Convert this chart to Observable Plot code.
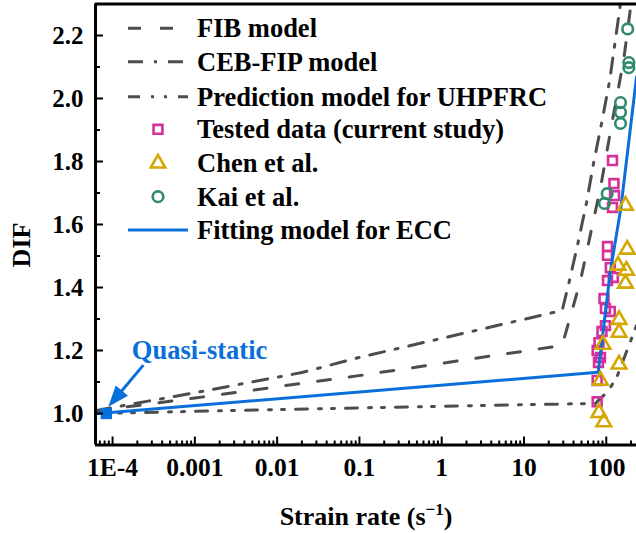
<!DOCTYPE html>
<html><head><meta charset="utf-8">
<script src="https://cdn.jsdelivr.net/npm/d3@7"></script>
<script src="https://cdn.jsdelivr.net/npm/@observablehq/plot@0.6"></script>
<style>
html,body{margin:0;padding:0;background:#fff;}
#chart{width:636px;height:533px;}
</style></head><body><div id="chart"></div>
<script>
// ---- data ----
const fibX = [6.2e-5, 0.001, 0.103, 29.1, 48.6, 85.1, 117, 163, 200];
const fibY = [1.008, 1.049, 1.121, 1.216, 1.422, 1.717, 1.921, 2.124, 2.30];

const cebX = [6.2e-5, 0.001, 0.02, 0.103, 29.1, 35.0, 45.1, 57.5, 70.5, 89.1, 110, 129, 149];
const cebY = [1.009, 1.066, 1.13, 1.179, 1.327, 1.412, 1.539, 1.669, 1.798, 1.930, 2.057, 2.186, 2.302];

const predX = [6.2e-5, 0.103, 74, 107, 137, 168, 226, 233];
const predY = [1.0, 1.018, 1.032, 1.073, 1.121, 1.182, 1.27, 1.28];

const fitX = [6.2e-5, 79.7, 112, 150, 233];
const fitY = [0.999, 1.131, 1.45, 1.65, 2.068];

const testX = [119,124,126,119,103.5,103.5,112,122,103.5,93.8,97.7,112,97.7,88.7,81.5,77.5,85,80.4,77.5,77.5];
const testY = [1.803,1.730,1.692,1.654,1.530,1.502,1.463,1.432,1.422,1.365,1.333,1.324,1.279,1.260,1.225,1.200,1.178,1.162,1.105,1.037];

const chenX = [171,179.5,139,176,171,143,143,91.2,143,85,81.5,93.3];
const chenY = [1.660,1.521,1.470,1.454,1.413,1.298,1.257,1.219,1.156,1.105,1.002,0.973];

const kaiX = [182,188,188,149,149,149,102.6,95];
const kaiY = [2.221,2.114,2.098,1.987,1.956,1.921,1.698,1.667];

const quasiX = [8.4e-5];
const quasiY = [1.0];

const annoLabel = ["Quasi-static"];
const annoLabelX = [1.14e-3];
const annoLabelY = [1.2];
const arrowFrom = [2.4e-4, 1.152];
const arrowTo = [9.0e-5, 1.020];

const xMajor = [1e-4, 1e-3, 1e-2, 0.1, 1, 10, 100];
const xLabels = ["1E-4", "0.001", "0.01", "0.1", "1", "10", "100"];
const yMajor = [1.0, 1.2, 1.4, 1.6, 1.8, 2.0, 2.2];
const yMinor = [0.9, 1.1, 1.3, 1.5, 1.7, 1.9, 2.1];

const legendNames = ["FIB model", "CEB-FIP model", "Prediction model for UHPFRC",
  "Tested data (current study)", "Chen et al.", "Kai et al.", "Fitting model for ECC"];

const xDomain = [6.2e-5, 233];
const yDomain = [0.9, 2.3];

// ---- styles ----
const GRAY = "#4d4d4d", BLUE = "#0a6fdb", MAG = "#d6309a", GOLD = "#d4a800", TEAL = "#2f8a6e";
const DASH_FIB = "13,19", DASH_CEB = "15,11,3,11", DASH_PRED = "12,11,3,10,3,11";
const FONT = "'Liberation Serif', 'Times New Roman', serif";
const R_SQ = 5.0, R_TRI = 5.4, R_CIR = 5.3;

const xMinor = [];
for (let e = -5; e <= 2; e++) for (let m = 2; m <= 9; m++) {
  const v = m * Math.pow(10, e);
  if (v >= xDomain[0] && v <= xDomain[1]) xMinor.push(v);
}

const pts = (xs, ys) => xs.map((x, i) => ({x, y: ys[i]}));

const chart = Plot.plot({
  width: 636, height: 533,
  marginLeft: 95, marginRight: 0, marginTop: 3.5, marginBottom: 88.5,
  x: {type: "log", domain: xDomain},
  y: {domain: yDomain},
  style: {fontFamily: FONT, fontWeight: "bold", fontSize: "25px", color: "black", background: "white"},
  marks: [
    Plot.line(pts(fibX, fibY), {x: "x", y: "y", stroke: GRAY, strokeWidth: 3, strokeDasharray: DASH_FIB, clip: true}),
    Plot.line(pts(cebX, cebY), {x: "x", y: "y", stroke: GRAY, strokeWidth: 3, strokeDasharray: DASH_CEB, clip: true}),
    Plot.line(pts(predX, predY), {x: "x", y: "y", stroke: GRAY, strokeWidth: 3, strokeDasharray: DASH_PRED, clip: true}),
    Plot.dot(pts(testX, testY), {x: "x", y: "y", symbol: "square", r: R_SQ, stroke: MAG, strokeWidth: 2.6, fill: "none"}),
    Plot.line(pts(fitX, fitY), {x: "x", y: "y", stroke: BLUE, strokeWidth: 3, clip: true}),
    Plot.dot(pts(chenX, chenY), {x: "x", y: "y", symbol: "triangle", r: R_TRI, stroke: GOLD, strokeWidth: 2.6, fill: "none"}),
    Plot.dot(pts(kaiX, kaiY), {x: "x", y: "y", symbol: "circle", r: R_CIR, stroke: TEAL, strokeWidth: 2.6, fill: "none"}),
    Plot.dot(pts(quasiX, quasiY), {x: "x", y: "y", symbol: "square", r: 6.4, fill: BLUE, stroke: "none"}),
    Plot.text(annoLabel, {x: annoLabelX, y: annoLabelY, text: d => d, fill: BLUE, fontSize: 26.5, fontWeight: "bold", textAnchor: "middle"}),
    // axes
    Plot.axisY(yMajor, {anchor: "left", tickSize: -8, tickPadding: 20, strokeWidth: 2, tickFormat: d => d.toFixed(1), fontSize: 25, label: null}),
    Plot.axisY(yMinor, {anchor: "left", tickSize: -5, tickPadding: 20, strokeWidth: 2, tickFormat: () => "", label: null}),
    Plot.axisX(xMajor, {anchor: "bottom", tickSize: -8, tickPadding: 21, strokeWidth: 2, tickFormat: (d) => xLabels[xMajor.indexOf(d)], fontSize: 25.5, label: null}),
    Plot.axisX(xMinor, {anchor: "bottom", tickSize: -4, tickPadding: 20, strokeWidth: 2, tickFormat: () => "", label: null}),
    Plot.ruleX([xDomain[0]], {stroke: "black", strokeWidth: 3}),
    Plot.ruleY([yDomain[0]], {stroke: "black", strokeWidth: 3}),
    Plot.ruleY([yDomain[1]], {stroke: "black", strokeWidth: 3})
  ]
});

const svg = d3.select(chart);
const sx = chart.scale("x"), sy = chart.scale("y");

// arrow for the quasi-static annotation
{
  const x0 = sx.apply(arrowFrom[0]), y0 = sy.apply(arrowFrom[1]);
  const x1 = sx.apply(arrowTo[0]), y1 = sy.apply(arrowTo[1]);
  const dx = x1 - x0, dy = y1 - y0, L = Math.hypot(dx, dy);
  const ux = dx / L, uy = dy / L, hl = 21, hw = 8;
  const bx = x1 - ux * hl, by = y1 - uy * hl;
  svg.append("line").attr("x1", x0).attr("y1", y0).attr("x2", bx + ux * 2).attr("y2", by + uy * 2)
    .attr("stroke", BLUE).attr("stroke-width", 3);
  svg.append("path").attr("d", `M${x1},${y1}L${bx - uy * hw},${by + ux * hw}L${bx + uy * hw},${by - ux * hw}Z`)
    .attr("fill", BLUE);
}

// axis titles
svg.append("text").attr("transform", "translate(30,245) rotate(-90)").attr("text-anchor", "middle")
  .attr("font-family", FONT).attr("font-weight", "bold").attr("font-size", 26).attr("fill", "black").text("DIF");
{
  const t = svg.append("text").attr("x", 366).attr("y", 525).attr("text-anchor", "middle")
    .attr("font-family", FONT).attr("font-weight", "bold").attr("font-size", 26).attr("fill", "black");
  t.append("tspan").text("Strain rate (s");
  t.append("tspan").attr("dy", -10).attr("font-size", 17).text("\u22121");
  t.append("tspan").attr("dy", 10).text(")");
}

// legend
{
  const rowsY = [28.3, 61.7, 96.7, 129.3, 163.3, 196.7, 230];
  const g = svg.append("g");
  const lineRow = (i, color, dash) => {
    g.append("line").attr("x1", 128).attr("x2", 188).attr("y1", rowsY[i]).attr("y2", rowsY[i])
      .attr("stroke", color).attr("stroke-width", 3).attr("stroke-dasharray", dash);
  };
  lineRow(0, GRAY, DASH_FIB);
  lineRow(1, GRAY, DASH_CEB);
  lineRow(2, GRAY, DASH_PRED);
  lineRow(6, BLUE, null);
  const sym = (i, type, r, color) => {
    g.append("path").attr("transform", `translate(158,${rowsY[i]})`)
      .attr("d", d3.symbol(type, Math.PI * r * r)()).attr("fill", "none").attr("stroke", color).attr("stroke-width", 2.6);
  };
  sym(3, d3.symbolSquare, R_SQ, MAG);
  sym(4, d3.symbolTriangle, R_TRI, GOLD);
  sym(5, d3.symbolCircle, R_CIR, TEAL);
  legendNames.forEach((name, i) => {
    g.append("text").attr("x", 197).attr("y", rowsY[i] + 9).attr("text-anchor", "start").attr("font-family", FONT)
      .attr("font-weight", "bold").attr("font-size", 26.5).attr("fill", "black").text(name);
  });
}

document.getElementById("chart").appendChild(chart);
</script></body></html>
